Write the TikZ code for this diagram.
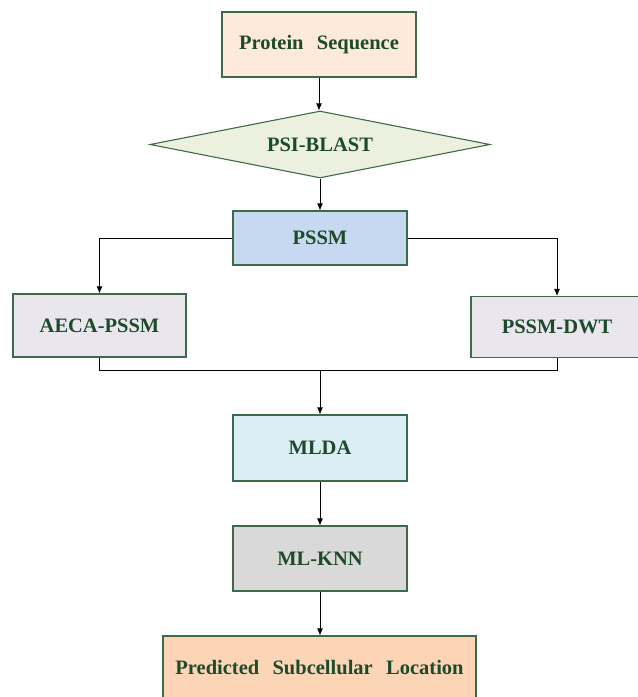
\documentclass[tikz,border=0pt]{standalone}
\usepackage{fontspec}
\setmainfont{Liberation Serif}
\usetikzlibrary{shapes.geometric,arrows.meta}
\definecolor{bordergreen}{HTML}{3F6A4A}
\definecolor{textgreen}{HTML}{1E4A2C}
\definecolor{cps}{HTML}{FDEADA}
\definecolor{cblast}{HTML}{EBF1DE}
\definecolor{cpssm}{HTML}{C6D9F0}
\definecolor{cfeat}{HTML}{E9E6EE}
\definecolor{cmlda}{HTML}{DAEEF3}
\definecolor{cknn}{HTML}{D9D9D9}
\definecolor{cpred}{HTML}{FBD5B5}
\newcommand{\wsp}{\hspace{0.65em}}
\tikzset{
  box/.style={draw=bordergreen, line width=1.1pt, inner sep=0pt,
    font=\fontsize{20.5}{24}\selectfont\bfseries, text=textgreen},
  conn/.style={draw=black, line width=0.9pt},
  arr/.style={conn, -{Latex[length=7pt,width=6pt]}}
}
\begin{document}
\begin{tikzpicture}[x=1pt,y=-1pt]
\useasboundingbox (0,0) rectangle (638,697);
\begin{scope}
\clip (0,0) rectangle (638,697);
\node[box, fill=cps, minimum width=194pt, minimum height=65pt] (ps) at (319,44.5) {Protein\wsp Sequence};
\node[box, diamond, fill=cblast, shape aspect=5.07, minimum width=340pt, minimum height=67pt] (blast) at (320,144.5) {PSI-BLAST};
\node[box, fill=cpssm, minimum width=174pt, minimum height=54pt] (pssm) at (320,238) {PSSM};
\node[box, fill=cfeat, minimum width=173pt, minimum height=63pt] (aeca) at (99.5,325.5) {AECA-PSSM};
\node[box, fill=cfeat, minimum width=172pt, minimum height=61pt] (dwt) at (557,327) {PSSM-DWT};
\node[box, fill=cmlda, minimum width=174pt, minimum height=66pt] (mlda) at (320,448) {MLDA};
\node[box, fill=cknn, minimum width=174pt, minimum height=65pt] (knn) at (320,558.5) {ML-KNN};
\node[box, fill=cpred, minimum width=313pt, minimum height=64pt] (pred) at (319.5,668) {Predicted\wsp Subcellular\wsp Location};
\coordinate (merge) at (320,370);

\draw[arr] (ps.south) -- (ps.south |- blast.north);
\draw[arr] (blast.south) -- (blast.south |- pssm.north);
\draw[arr] (pssm.west) -| (aeca.north);
\draw[arr] (pssm.east) -| (dwt.north);
\draw[conn] (aeca.south) |- (merge);
\draw[conn] (dwt.south) |- (merge);
\draw[arr] (merge) -- (merge |- mlda.north);
\draw[arr] (mlda.south) -- (knn.north);
\draw[arr] (knn.south) -- (knn.south |- pred.north);
\end{scope}
\end{tikzpicture}
\end{document}
